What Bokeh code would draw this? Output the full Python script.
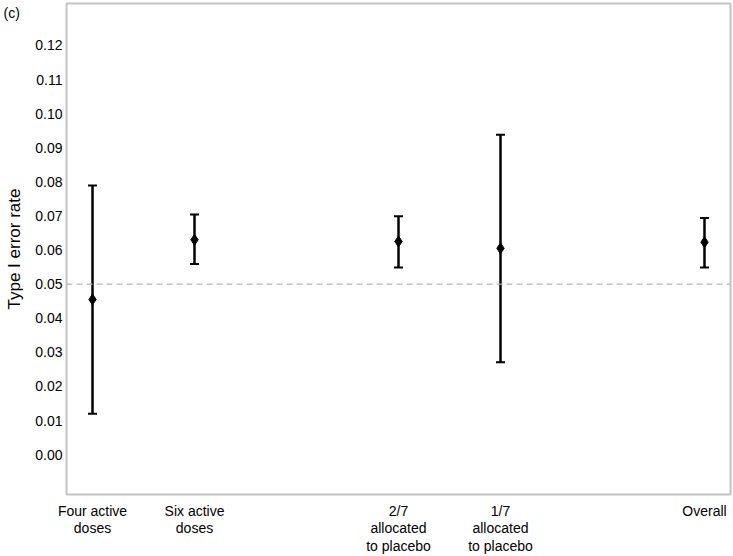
from bokeh.plotting import figure
from bokeh.models import ColumnDataSource, Whisker, TeeHead, Span, Title, FixedTicker, Range1d
from bokeh.embed import file_html
from bokeh.resources import INLINE

# ---- data ----
categories = ["Four active\ndoses", "Six active\ndoses", "2/7\nallocated\nto placebo",
              "1/7\nallocated\nto placebo", "Overall"]
positions = [1, 2, 4, 5, 7]
estimate = [0.0455, 0.0630, 0.0625, 0.0605, 0.0623]
lower = [0.0120, 0.0559, 0.0549, 0.0271, 0.0549]
upper = [0.0789, 0.0704, 0.0699, 0.0938, 0.0694]
y_ticks = [0.00, 0.01, 0.02, 0.03, 0.04, 0.05, 0.06, 0.07, 0.08, 0.09, 0.10, 0.11, 0.12]
reference_rate = 0.05
panel_tag = "(c)"

FONT = "Liberation Sans"
Y_LO, Y_HI = -0.0117, 0.1323

src = ColumnDataSource(dict(x=positions, est=estimate, lo=lower, hi=upper))

p = figure(width=733, height=556, output_backend="svg", toolbar_location=None,
           x_range=Range1d(0.745, 7.255), y_range=Range1d(Y_LO, Y_HI),
           min_border_left=66, min_border_right=3, min_border_top=3, min_border_bottom=62)

# panel tag as a title pulled into the top-left corner
p.title = Title(text=panel_tag, align="left", vertical_align="bottom", offset=-63,
                standoff=-34, text_font=FONT, text_font_size="14px",
                text_font_style="normal", text_color="black")

p.background_fill_color = "white"
p.border_fill_color = "white"
p.outline_line_color = "#c4c4c4"
p.outline_line_width = 2
p.xgrid.visible = False
p.ygrid.visible = False

for ax in (p.xaxis[0], p.yaxis[0]):
    ax.axis_line_color = None
    ax.major_tick_line_color = None
    ax.minor_tick_line_color = None
    ax.major_tick_out = 0
    ax.major_tick_in = 0
    ax.minor_tick_out = 0
    ax.minor_tick_in = 0
    ax.major_label_text_font = FONT
    ax.major_label_text_font_size = "14px"
    ax.major_label_text_color = "black"

ax = p.yaxis[0]
ax.ticker = FixedTicker(ticks=y_ticks)
ax.major_label_overrides = {t: f"{t:.2f}" for t in y_ticks}
ax.major_label_standoff = 4
ax.axis_label = "Type I error rate"
ax.axis_label_text_font = FONT
ax.axis_label_text_font_size = "17px"
ax.axis_label_text_font_style = "normal"
ax.axis_label_text_color = "black"
ax.axis_label_standoff = 8

xa = p.xaxis[0]
xa.ticker = FixedTicker(ticks=positions)
xa.major_label_overrides = {x: c for x, c in zip(positions, categories)}
xa.major_label_standoff = 8
xa.major_label_text_line_height = 1.1

# reference line
p.add_layout(Span(location=reference_rate, dimension="width", line_color="#b4b4b4",
                  line_dash="6 4", line_width=1.2))

# error bars
w = Whisker(source=src, base="x", lower="lo", upper="hi", dimension="height",
            line_color="black", line_width=2.5,
            lower_head=TeeHead(size=9, line_color="black", line_width=2),
            upper_head=TeeHead(size=9, line_color="black", line_width=2))
p.add_layout(w)

p.scatter("x", "est", source=src, marker="diamond", size=11, color="black")

open("out.html", "w").write(file_html(p, INLINE))
